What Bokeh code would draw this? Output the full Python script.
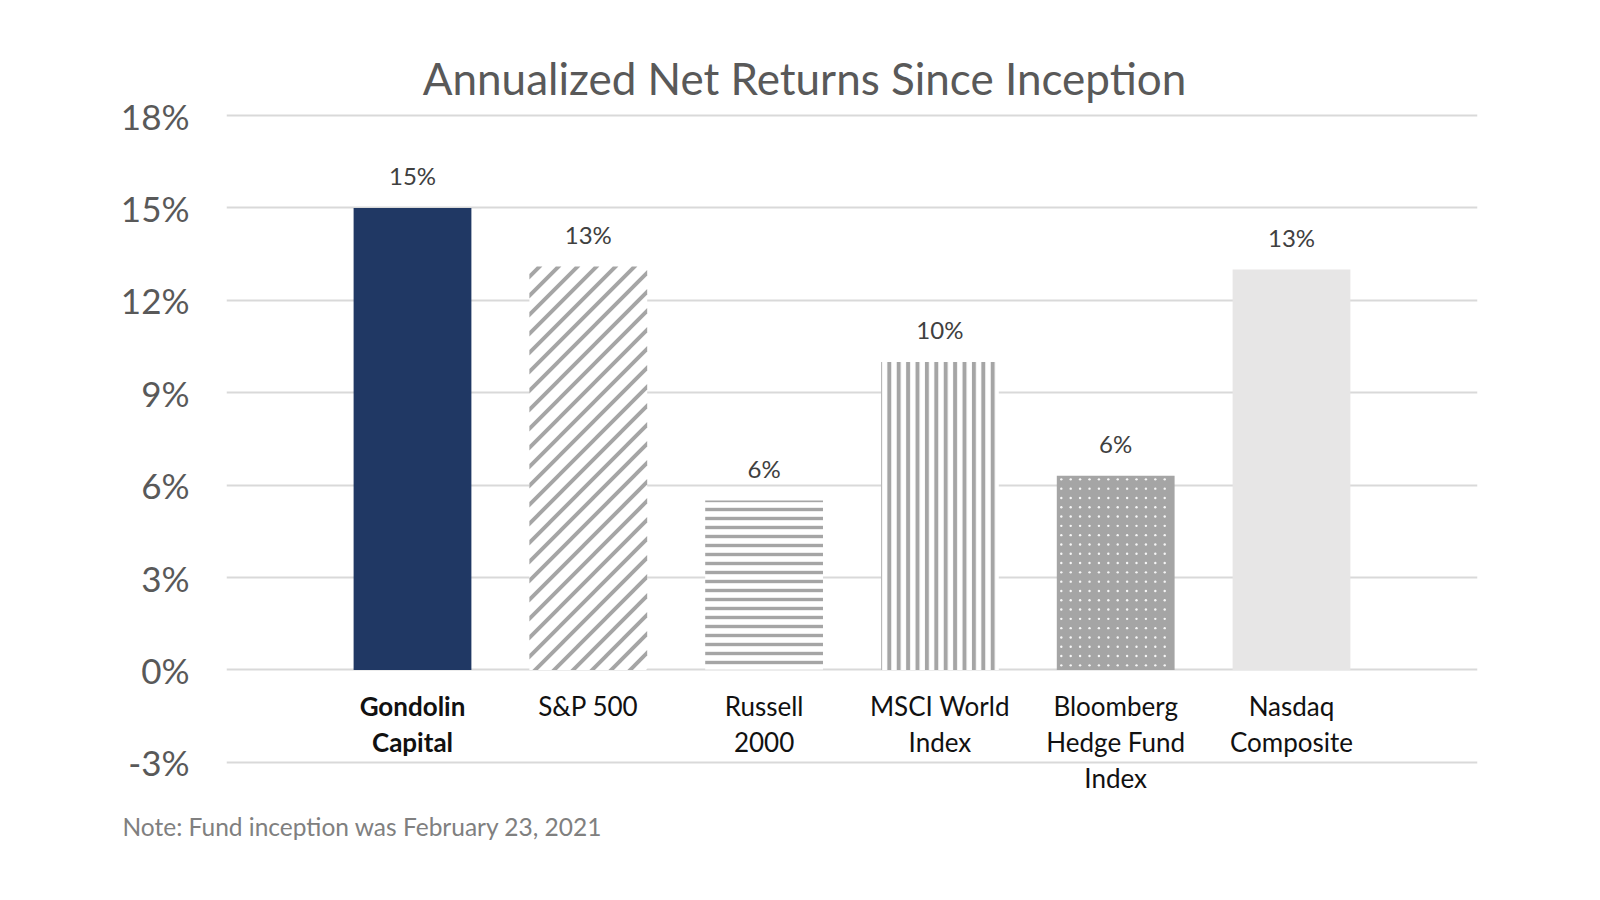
import math
from bokeh.plotting import figure
from bokeh.models import (ColumnDataSource, FactorRange, Range1d, FixedTicker, PrintfTickFormatter,
                          Label, Title)
from bokeh.core.properties import value
from bokeh.embed import file_html
from bokeh.resources import INLINE

# ---- data ----
categories = ["Gondolin Capital", "S&P 500", "Russell 2000", "MSCI World Index",
              "Bloomberg Hedge Fund Index", "Nasdaq Composite"]
category_labels = ["Gondolin\nCapital", "S&P 500", "Russell\n2000", "MSCI World\nIndex",
                   "Bloomberg\nHedge Fund\nIndex", "Nasdaq\nComposite"]
returns = [15.0, 13.1, 5.5, 10.0, 6.3, 13.0]
value_labels = ["15%", "13%", "6%", "10%", "6%", "13%"]
y_ticks = [-3, 0, 3, 6, 9, 12, 15, 18]
title_text = "Annualized Net Returns Since Inception"
note_text = "Note: Fund inception was February 23, 2021"

# ---- styles ----
bar_styles = [
    dict(fill_color="#203864"),
    dict(fill_color="#ffffff"),                       # + 45 degree stripes (below)
    dict(fill_color="#ffffff", hatch_pattern="horizontal_line", hatch_color="#a5a5a5",
         hatch_scale=9, hatch_weight=3.4),
    dict(fill_color="#ffffff", hatch_pattern="vertical_line", hatch_color="#a5a5a5",
         hatch_scale=9.4, hatch_weight=4.0),
    dict(fill_color="#a5a5a5"),                       # + small white dots (below)
    dict(fill_color="#e7e6e6"),
]
texture = ["none", "stripes", "none", "none", "dots", "none"]
label_styles = ["bold", "normal", "normal", "normal", "normal", "normal"]

FONT = "Lato"
W, H = 1584, 884
B_LEFT, B_RIGHT = 226, 107
PAD = 0.558
BAR_W = 0.67
PX = 30.8            # pixels per percentage point
B_TOP, B_BOT = 39, 79
TOP_VAL = 18 + (115 - B_TOP) / PX
y_start = TOP_VAL - (H - B_TOP - B_BOT) / PX
SX = (W - B_LEFT - B_RIGHT) / (len(categories) + 2 * PAD)   # pixels per category unit
SY = PX


def clip(poly, a, b, c):
    """keep the part of poly where a*u + b*v <= c"""
    out = []
    for k in range(len(poly)):
        p1, p2 = poly[k], poly[(k + 1) % len(poly)]
        f1 = a * p1[0] + b * p1[1] - c
        f2 = a * p2[0] + b * p2[1] - c
        if f1 <= 0:
            out.append(p1)
        if f1 * f2 < 0:
            t = f1 / (f1 - f2)
            out.append((p1[0] + t * (p2[0] - p1[0]), p1[1] + t * (p2[1] - p1[1])))
    return out


def stripes(i, top, period=19.0, thick=5.5, phase=3.0):
    bw, bh = BAR_W * SX, top * SY
    x0 = i + 0.5 - BAR_W / 2
    rect = [(0, 0), (bw, 0), (bw, bh), (0, bh)]
    xs, ys = [], []
    k = math.floor(-bh / period) - 1
    while k * period + phase <= bw:
        lo = k * period + phase
        poly = clip(clip(rect, -1, 1, -lo), 1, -1, lo + thick)
        if len(poly) >= 3:
            xs.append([x0 + u / SX for u, v in poly])
            ys.append([v / SY for u, v in poly])
        k += 1
    return xs, ys


def dots(i, top, step_x=9.4, step_y=9.3, off_x=4.5, off_y=3.5):
    bw, bh = BAR_W * SX, top * SY
    x0 = i + 0.5 - BAR_W / 2
    xs, ys = [], []
    v = bh - off_y
    while v > 1:
        u = off_x
        while u < bw - 1:
            xs.append(x0 + u / SX)
            ys.append(v / SY)
            u += step_x
        v -= step_y
    return xs, ys


src = ColumnDataSource(dict(
    cat=categories, lab=category_labels, ret=returns, vlab=value_labels,
    fs=label_styles, zero=[0] * len(categories),
))

p = figure(width=W, height=H, output_backend="svg", toolbar_location=None,
           x_range=FactorRange(*categories, range_padding=PAD, range_padding_units="absolute"),
           y_range=Range1d(y_start, TOP_VAL),
           min_border_left=B_LEFT, min_border_right=B_RIGHT, min_border_top=B_TOP, min_border_bottom=B_BOT)
p.outline_line_color = None
p.background_fill_color = "white"
p.border_fill_color = "white"

for i, (cat, ret, style, tex) in enumerate(zip(categories, returns, bar_styles, texture)):
    p.vbar(x=[cat], top=[ret], bottom=0, width=BAR_W, line_color=None, **style)
    if tex == "stripes":
        sx, sy = stripes(i, ret)
        p.patches(sx, sy, fill_color="#a5a5a5", line_color=None)
    elif tex == "dots":
        dx, dy = dots(i, ret)
        p.scatter(dx, dy, marker="circle", size=2.4, fill_color="#ffffff", fill_alpha=0.9, line_color=None)

# value labels
p.text(x="cat", y="ret", text="vlab", source=src, y_offset=-32,
       text_align="center", text_baseline="middle",
       text_font=value(FONT), text_font_size="24px", text_color="#404040")

# category labels
p.text(x="cat", y="zero", text="lab", source=src, y_offset=20,
       text_align="center", text_baseline="top", text_line_height=1.13,
       text_font=value(FONT), text_font_size="26px", text_font_style="fs", text_color="#111111")

# axes
p.xaxis.visible = False
p.xgrid.visible = False
p.yaxis.ticker = FixedTicker(ticks=y_ticks)
p.ygrid.ticker = FixedTicker(ticks=y_ticks)
p.yaxis.formatter = PrintfTickFormatter(format="%d%%")
p.yaxis.axis_line_color = None
p.yaxis.major_tick_line_color = None
p.yaxis.minor_tick_line_color = None
p.yaxis.major_label_standoff = 31
p.yaxis.major_label_text_font = FONT
p.yaxis.major_label_text_font_size = "35px"
p.yaxis.major_label_text_color = "#595959"
p.ygrid.grid_line_color = "#d9d9d9"
p.ygrid.grid_line_width = 2

# title and note
p.add_layout(Label(x=2.73, y=19.22, text=title_text, text_align="center", text_baseline="middle",
                   text_font=FONT, text_font_size="44px", text_color="#595959"))
p.add_layout(Title(text=note_text, align="left", offset=-104, vertical_align="top", standoff=12,
                   text_font=FONT, text_font_size="24.5px", text_font_style="normal",
                   text_color="#808080"), "below")

open("out.html", "w").write(file_html(p, INLINE))
